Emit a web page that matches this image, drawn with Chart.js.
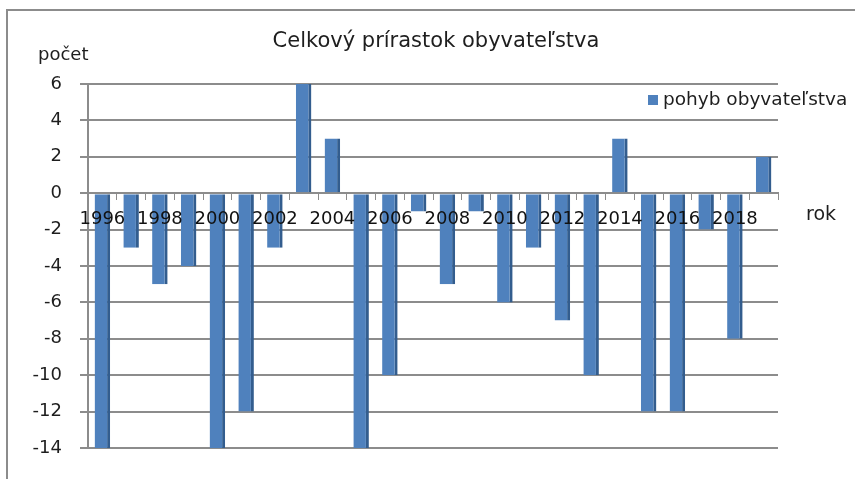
<!DOCTYPE html>
<html>
<head>
<meta charset="utf-8">
<script src="https://cdn.jsdelivr.net/npm/chart.js@4"></script>
<style>
  html, body { margin: 0; padding: 0; background: #fff; }
  #wrap { position: relative; width: 855px; height: 479px; }
</style>
</head>
<body>
<div id="wrap"><canvas id="chart" width="855" height="479"></canvas></div>
<script>
    // Data
    const years = ['1996', '1997', '1998', '1999', '2000', '2001', '2002', '2003',
        '2004', '2005', '2006', '2007', '2008', '2009', '2010', '2011',
        '2012', '2013', '2014', '2015', '2016', '2017', '2018', '2019'];
    const pohyb = [-14, -3, -5, -4, -14, -12, -3, 6, 3, -14, -10, -1, -5, -1,
        -6, -3, -7, -10, 3, -12, -12, -2, -8, 2];
    const yTicks = [-14, -12, -10, -8, -6, -4, -2, 0, 2, 4, 6];

    const FONT = 'DejaVu Sans, sans-serif';

    // Texts placed around the plot like in the original Excel chart
    const decor = {
        id: 'decor',
        afterDraw(chart) {
            const ctx = chart.ctx;
            ctx.save();
            // frame (top and left only are visible)
            ctx.strokeStyle = '#8c8c8c';
            ctx.lineWidth = 2;
            ctx.beginPath();
            ctx.moveTo(855, 10);
            ctx.lineTo(7, 10);
            ctx.lineTo(7, 479);
            ctx.stroke();

            ctx.fillStyle = '#1e1e1e';
            ctx.textBaseline = 'middle';
            ctx.textAlign = 'center';
            ctx.font = '21px ' + FONT;
            ctx.fillText('Celkový prírastok obyvateľstva', 436, 42);

            ctx.textAlign = 'left';
            ctx.font = '18px ' + FONT;
            ctx.fillText('počet', 38, 55);
            ctx.font = '19px ' + FONT;
            ctx.fillText('rok', 806, 215);

            // legend
            ctx.fillStyle = '#4f81bd';
            ctx.fillRect(648, 95, 10, 10);
            ctx.fillStyle = '#1e1e1e';
            ctx.font = '18.5px ' + FONT;
            ctx.fillText(chart.data.datasets[0].label, 663, 100);
            ctx.restore();
        }
    };

    const ctx = document.getElementById('chart').getContext('2d');
    const chart = new Chart(ctx, {
        type: 'bar',
        data: {
            labels: years,
            datasets: [{
                label: 'pohyb obyvateľstva',
                data: pohyb,
                backgroundColor: '#4f81bd',
                borderColor: '#335d8e',
                borderWidth: { left: 0, right: 3, top: 0, bottom: 0 },
                borderSkipped: false,
                categoryPercentage: 1,
                barPercentage: 0.54
            }]
        },
        options: {
            responsive: false,
            animation: false,
            layout: {
                padding: { top: 84, right: 77, bottom: 31, left: 0 }
            },
            plugins: {
                legend: { display: false },
                title: { display: false },
                tooltip: { enabled: false }
            },
            scales: {
                x: {
                    position: { y: 0 },
                    grid: {
                        offset: true,
                        drawOnChartArea: false,
                        drawTicks: true,
                        tickLength: 6,
                        color: '#8c8c8c'
                    },
                    border: { color: '#8c8c8c', width: 2 },
                    ticks: {
                        z: 1,
                        autoSkip: false,
                        maxRotation: 0,
                        padding: 9,
                        color: '#111',
                        font: { family: FONT, size: 18 },
                        callback: function(val, i) {
                            return i % 2 === 0 ? years[i] : '';
                        }
                    }
                },
                y: {
                    min: -14,
                    max: 6,
                    afterBuildTicks: function(scale) {
                        scale.ticks = yTicks.map(v => ({ value: v }));
                    },
                    afterFit: function(scale) {
                        scale.width = 88;
                    },
                    grid: {
                        color: '#8c8c8c',
                        lineWidth: 2,
                        drawTicks: true,
                        tickLength: 8
                    },
                    border: { color: '#8c8c8c', width: 2 },
                    ticks: {
                        padding: 18,
                        color: '#1e1e1e',
                        font: { family: FONT, size: 18 }
                    }
                }
            }
        },
        plugins: [decor]
    });
</script>
</body>
</html>
